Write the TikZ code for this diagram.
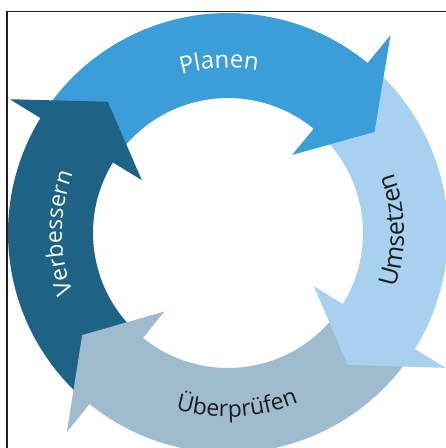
\documentclass[tikz,border=0pt]{standalone}
\usepackage{fontspec}
\newfontfamily\labfont{Open Sans}
\usetikzlibrary{decorations.text}
\definecolor{cPlan}{RGB}{59,158,216}
\definecolor{cUms}{RGB}{168,209,239}
\definecolor{cUeb}{RGB}{159,188,207}
\definecolor{cVer}{RGB}{30,98,134}
\definecolor{cTxt}{RGB}{28,28,28}
\definecolor{cFrame}{RGB}{30,30,30}
\tikzset{
  ringtext/.style={decorate, decoration={text along path, text align=center, #1}},
}
\newcommand{\ringshaft}[3]{% color, previous barb angle, own barb angle
  \pgfmathsetmacro{\shbeg}{#2-2}
  \pgfmathsetmacro{\shend}{#3-2}
  \fill[#1] (\shbeg:220) arc[start angle=\shbeg, end angle=\shend, radius=220]
    -- (\shend:135) arc[start angle=\shend, end angle=\shbeg, radius=135] -- cycle;}
\newcommand{\ringhead}[2]{% color, barb angle
  \pgfmathsetmacro{\tipang}{#2-16}
  \fill[#1] (#2:256) -- (\tipang:178) -- (#2:101) -- cycle;}
\begin{document}
\begin{tikzpicture}[x=1pt,y=1pt]
\useasboundingbox (0,0) rectangle (446,448);
\clip (0,0) rectangle (446,448);
\begin{scope}[shift={(228,215)}]
  \ringshaft{cPlan}{148.5}{50.6}
  \ringshaft{cUms}{50.6}{-31.8}
  \ringshaft{cUeb}{-31.8}{-129}
  \ringshaft{cVer}{231}{148.5}
  \ringhead{cPlan}{50.6}
  \ringhead{cUms}{-31.8}
  \ringhead{cUeb}{-129}
  \ringhead{cVer}{148.5}
  \path[ringtext={text={|\labfont\fontsize{24}{24}\selectfont|Planen}, text color=white}]
    (150:165) arc[start angle=150, end angle=36, radius=165];
  \path[ringtext={text={|\labfont\fontsize{25}{25}\selectfont|Umsetzen}, text color=cTxt}]
    (-50:176) arc[start angle=-50, end angle=52, radius=176];
  \path[ringtext={text={|\labfont\fontsize{23}{23}\selectfont|Überprüfen}, text color=cTxt}]
    (-140:184) arc[start angle=-140, end angle=-34, radius=184];
  \path[ringtext={text={|\labfont\fontsize{23}{23}\selectfont|Verbessern}, text color=white}]
    (250:166) arc[start angle=250, end angle=110, radius=166];
\end{scope}
\draw[cFrame, line width=1.2pt] (7,0) -- (7,436.3) -- (446,436.3);
\end{tikzpicture}
\end{document}
